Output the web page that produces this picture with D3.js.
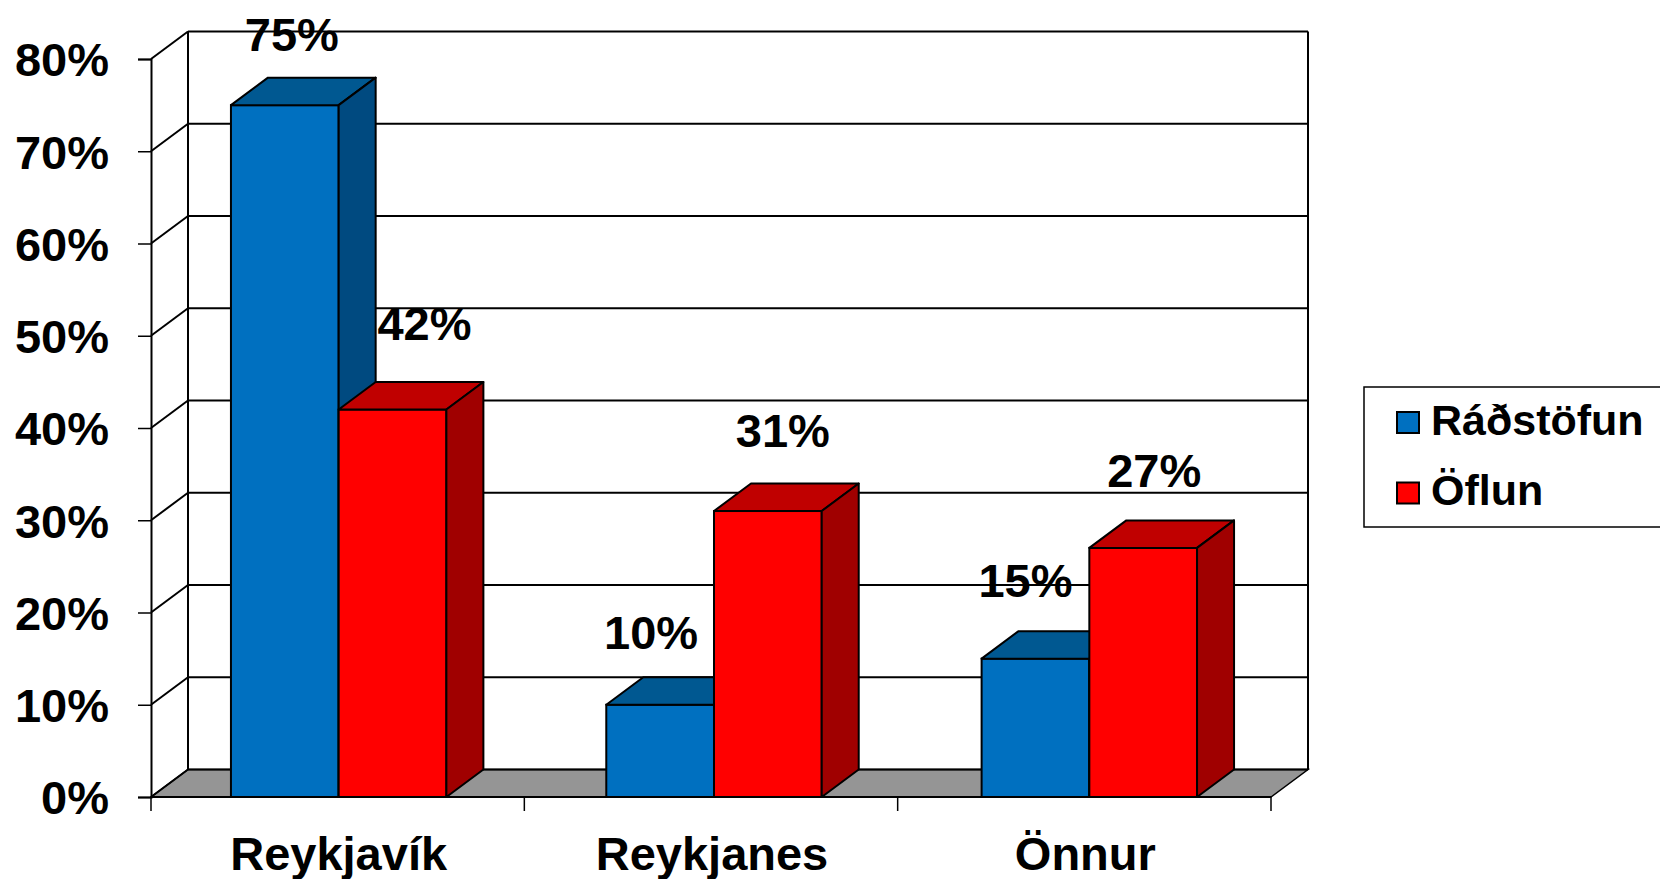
<!DOCTYPE html>
<html>
<head>
<meta charset="utf-8">
<script src="https://cdn.jsdelivr.net/npm/d3@7"></script>
<style>
  html, body { margin: 0; padding: 0; background: #fff; }
  svg { display: block; font-family: "Liberation Sans", Arial, sans-serif; font-weight: bold; }
</style>
</head>
<body>
<div id="chart"></div>
<script>
const categories = ["Reykjavík", "Reykjanes", "Önnur"];
const seriesNames = ["Ráðstöfun", "Öflun"];
const radstofun = [0.75, 0.10, 0.15];
const oflun = [0.42, 0.31, 0.27];
const yTicks = [0, 0.1, 0.2, 0.3, 0.4, 0.5, 0.6, 0.7, 0.8];

// label nudges (px) per category, per series: the labels were hand-placed
const labelNudge = [
  [[7, -54], [32, -70]],
  [[-9, -56], [15, -64]],
  [[-10, -62], [11, -61]]
];

const frontColor = ["#0070C0", "#FF0000"];
const topColor = ["#005891", "#C00000"];
const sideColor = ["#004A80", "#A00000"];

const W = 1660, H = 879;
const plotLeft = 151, plotRight = 1271, plotTop = 59, plotBottom = 797;
const dx = 37, dy = -27.5;   // depth of the 3D box

const svg = d3.select("#chart").append("svg")
  .attr("width", W)
  .attr("height", H);

// category axis (ticks, labels)
const xc = d3.scaleBand()
  .domain(categories)
  .range([plotLeft, plotRight]);

// bars sit on a slightly wider step, like the original
const x = d3.scaleBand()
  .domain(categories)
  .range([plotLeft, plotRight + 6])
  .paddingInner(0.426)
  .paddingOuter(0.213);

const x1 = d3.scaleBand()
  .domain(seriesNames)
  .range([0, x.bandwidth()]);

const y = d3.scaleLinear()
  .domain([0, 0.8])
  .range([plotBottom, plotTop]);

const values = [radstofun, oflun];

// floor
svg.append("polygon")
  .attr("points", [[plotLeft, plotBottom], [plotRight, plotBottom], [plotRight + dx, plotBottom + dy], [plotLeft + dx, plotBottom + dy]].join(" "))
  .attr("fill", "#959595")
  .attr("stroke", "#000")
  .attr("stroke-width", 1.5);

// back wall gridlines + side wall diagonals
yTicks.forEach(t => {
  svg.append("line")
    .attr("x1", plotLeft + dx).attr("x2", plotRight + dx)
    .attr("y1", y(t) + dy).attr("y2", y(t) + dy)
    .attr("stroke", "#000").attr("stroke-width", 2);
  svg.append("line")
    .attr("x1", plotLeft).attr("x2", plotLeft + dx)
    .attr("y1", y(t)).attr("y2", y(t) + dy)
    .attr("stroke", "#000").attr("stroke-width", 2);
});

// wall verticals
[plotLeft + dx, plotRight + dx].forEach(xx => {
  svg.append("line")
    .attr("x1", xx).attr("x2", xx)
    .attr("y1", y(0) + dy).attr("y2", y(0.8) + dy)
    .attr("stroke", "#000").attr("stroke-width", 2);
});

// y axis
const yAxis = svg.append("g")
  .attr("transform", `translate(${plotLeft},0)`)
  .call(d3.axisLeft(y).tickValues(yTicks).tickSize(13).tickPadding(30).tickFormat(d3.format(".0%")));
yAxis.select(".domain").attr("stroke", "#000").attr("stroke-width", 2);
yAxis.selectAll(".tick line").attr("stroke", "#000").attr("stroke-width", 1.5);
yAxis.selectAll(".tick text")
  .attr("font-family", "\"Liberation Sans\", Arial, sans-serif")
  .attr("font-size", "47px")
  .attr("font-weight", "bold")
  .attr("fill", "#000")
  .attr("x", -(plotLeft - 109))
  .attr("dy", "0.36em");

// x axis: ticks at category boundaries
const bounds = categories.map(c => xc(c)).concat([plotRight]);
bounds.forEach(b => {
  svg.append("line")
    .attr("x1", b).attr("x2", b)
    .attr("y1", plotBottom).attr("y2", plotBottom + 14)
    .attr("stroke", "#000").attr("stroke-width", 1.5);
});
svg.append("line")
  .attr("x1", plotLeft).attr("x2", plotRight)
  .attr("y1", plotBottom).attr("y2", plotBottom)
  .attr("stroke", "#000").attr("stroke-width", 2);

svg.selectAll(".cat-label")
  .data(categories)
  .enter()
  .append("text")
  .attr("class", "cat-label")
  .attr("x", d => xc(d) + xc.bandwidth() / 2 + 1)
  .attr("y", 870)
  .attr("text-anchor", "middle")
  .attr("font-size", "47px")
  .text(d => d);

// bars
categories.forEach((c, ci) => {
  seriesNames.forEach((s, si) => {
    const v = values[si][ci];
    const x0 = x(c) + x1(s);
    const w = x1.bandwidth();
    const yt = y(v), y0 = y(0);
    const g = svg.append("g");
    g.append("rect")
      .attr("x", x0).attr("y", yt)
      .attr("width", w).attr("height", y0 - yt)
      .attr("fill", frontColor[si])
      .attr("stroke", "#000").attr("stroke-width", 2);
    g.append("polygon")
      .attr("points", [[x0, yt], [x0 + dx, yt + dy], [x0 + w + dx, yt + dy], [x0 + w, yt]].join(" "))
      .attr("fill", topColor[si])
      .attr("stroke", "#000").attr("stroke-width", 2).attr("stroke-linejoin", "round");
    g.append("polygon")
      .attr("points", [[x0 + w, yt], [x0 + w + dx, yt + dy], [x0 + w + dx, y0 + dy], [x0 + w, y0]].join(" "))
      .attr("fill", sideColor[si])
      .attr("stroke", "#000").attr("stroke-width", 2).attr("stroke-linejoin", "round");
  });
});

// data labels
categories.forEach((c, ci) => {
  seriesNames.forEach((s, si) => {
    const v = values[si][ci];
    const cx = x(c) + x1(s) + x1.bandwidth() / 2;
    svg.append("text")
      .attr("x", cx + labelNudge[ci][si][0])
      .attr("y", y(v) + labelNudge[ci][si][1])
      .attr("text-anchor", "middle")
      .attr("font-size", "47px")
      .text(d3.format(".0%")(v));
  });
});

// legend
const legend = svg.append("g").attr("transform", "translate(1364,387)");
legend.append("rect")
  .attr("x", 0).attr("y", 0)
  .attr("width", 310).attr("height", 140)
  .attr("fill", "#fff")
  .attr("stroke", "#000").attr("stroke-width", 1.5);
seriesNames.forEach((s, i) => {
  const row = legend.append("g").attr("transform", `translate(0, ${i * 70.5})`);
  row.append("rect")
    .attr("x", 33).attr("y", 25)
    .attr("width", 22).attr("height", 21)
    .attr("fill", frontColor[i])
    .attr("stroke", "#000").attr("stroke-width", 2);
  row.append("text")
    .attr("x", 67).attr("y", 47.5)
    .attr("font-size", "43px")
    .text(s);
});
</script>
</body>
</html>
